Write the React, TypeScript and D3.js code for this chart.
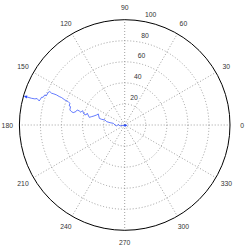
import React, { useEffect, useRef } from "react";
import * as d3 from "d3";

// polar trace, theta in degrees, rho in data units
const thetaDeg = [
  164.0, 164.0, 164.0, 163.8, 163.2, 164.3, 163.0, 161.6, 161.2, 159.4,
  159.4, 157.0, 155.9, 156.5, 156.3, 156.2, 156.5, 156.5, 157.3, 157.5,
  158.4, 161.0, 161.3, 164.7, 165.9, 166.5, 164.7, 162.4, 162.8, 163.8,
  161.2, 164.9, 165.5, 162.6, 167.8, 165.8, 163.6, 160.3, 157.3, 165.3,
  166.2, 165.7, 169.5, 171.0, 171.6, 180.0, 187.1, 174.0, 192.1, 187.1,
  225.0, 341.6,
];
const rho = [
  97.8, 95.5, 92.1, 88.9, 86.9, 84.4, 83.7, 83.3, 81.8, 81.1,
  79.4, 79.0, 77.9, 75.8, 73.5, 70.8, 67.8, 65.4, 61.6, 58.1,
  56.0, 55.7, 54.3, 54.0, 52.1, 50.3, 48.1, 47.3, 45.2, 43.3,
  42.3, 40.1, 38.0, 37.3, 34.4, 32.4, 30.4, 28.3, 27.2, 24.9,
  22.6, 19.3, 17.4, 14.1, 10.9, 9.2, 7.7, 6.1, 4.5, 2.6,
  0.9, 1.0,
];

const radialTicks = [20, 40, 60, 80, 100];
const angleTicks = [0, 30, 60, 90, 120, 150, 180, 210, 240, 270, 300, 330];

const W = 247;
const H = 247;
const cx = 124.7;
const cy = 125;

const PolarChart = () => {
  const ref = useRef<SVGSVGElement | null>(null);

  useEffect(() => {
    if (!ref.current) return;
    const svg = d3.select(ref.current);
    svg.selectAll("*").remove();

    const r = d3.scaleLinear().domain([0, 100]).range([0, 105.3]);
    const rad = (deg: number) => (deg * Math.PI) / 180;
    const px = (deg: number, v: number) => cx + r(v) * Math.cos(rad(deg));
    const py = (deg: number, v: number) => cy - r(v) * Math.sin(rad(deg));

    const g = svg.append("g");

    // white disc
    g.append("circle")
      .attr("cx", cx)
      .attr("cy", cy)
      .attr("r", r(100))
      .attr("fill", "white");

    // spokes
    g.selectAll("line.spoke")
      .data(angleTicks)
      .join("line")
      .attr("class", "spoke")
      .attr("x1", cx)
      .attr("y1", cy)
      .attr("x2", (d) => px(d, 100))
      .attr("y2", (d) => py(d, 100))
      .attr("stroke", "#888")
      .attr("stroke-width", 0.8)
      .attr("stroke-dasharray", "1,2");

    // rings
    g.selectAll("circle.ring")
      .data(radialTicks.slice(0, -1))
      .join("circle")
      .attr("class", "ring")
      .attr("cx", cx)
      .attr("cy", cy)
      .attr("r", (d) => r(d))
      .attr("fill", "none")
      .attr("stroke", "#888")
      .attr("stroke-width", 0.8)
      .attr("stroke-dasharray", "1,2");

    // outer circle
    g.append("circle")
      .attr("cx", cx)
      .attr("cy", cy)
      .attr("r", r(100))
      .attr("fill", "none")
      .attr("stroke", "black")
      .attr("stroke-width", 1);

    // angle labels
    g.selectAll("text.ang")
      .data(angleTicks)
      .join("text")
      .attr("class", "ang")
      .attr("x", (d) => px(d, 111.5))
      .attr("y", (d) => py(d, 111.5))
      .attr("text-anchor", "middle")
      .attr("dominant-baseline", "central")
      .attr("font-family", "Liberation Sans, Arial, sans-serif")
      .attr("font-size", 6.8)
      .attr("fill", "#333")
      .text((d) => d);

    // radial labels
    g.selectAll("text.rad")
      .data(radialTicks)
      .join("text")
      .attr("class", "rad")
      .attr("x", (d) => px(80, d) + 2)
      .attr("y", (d) => py(80, d) - 4.5)
      .attr("text-anchor", "start")
      .attr("font-family", "Liberation Sans, Arial, sans-serif")
      .attr("font-size", 6.8)
      .attr("fill", "#333")
      .text((d) => d);

    // trace
    const pts: [number, number][] = thetaDeg.map((t, i) => [
      px(t, rho[i]),
      py(t, rho[i]),
    ]);
    g.append("path")
      .attr("d", d3.line()(pts))
      .attr("fill", "none")
      .attr("stroke", "#2244ff")
      .attr("stroke-width", 0.7);

    // end markers
    const marker = (p: [number, number], q: [number, number]) => {
      const a = Math.atan2(p[1] - q[1], p[0] - q[0]);
      const s = 2;
      const tip: [number, number] = [p[0] + s * Math.cos(a), p[1] + s * Math.sin(a)];
      const b1: [number, number] = [p[0] + s * Math.cos(a + 2.3), p[1] + s * Math.sin(a + 2.3)];
      const b2: [number, number] = [p[0] + s * Math.cos(a - 2.3), p[1] + s * Math.sin(a - 2.3)];
      g.append("path")
        .attr("d", `M${tip}L${b1}L${b2}Z`)
        .attr("fill", "#2244ff");
    };
    marker(pts[0], pts[1]);
    marker(pts[pts.length - 1], pts[pts.length - 2]);
  }, []);

  return (
    <svg
      ref={ref}
      width={W}
      height={H}
      style={{ position: "absolute", left: 0, top: 0, background: "white" }}
    ></svg>
  );
};

export default function App() {
  return <PolarChart />;
}
